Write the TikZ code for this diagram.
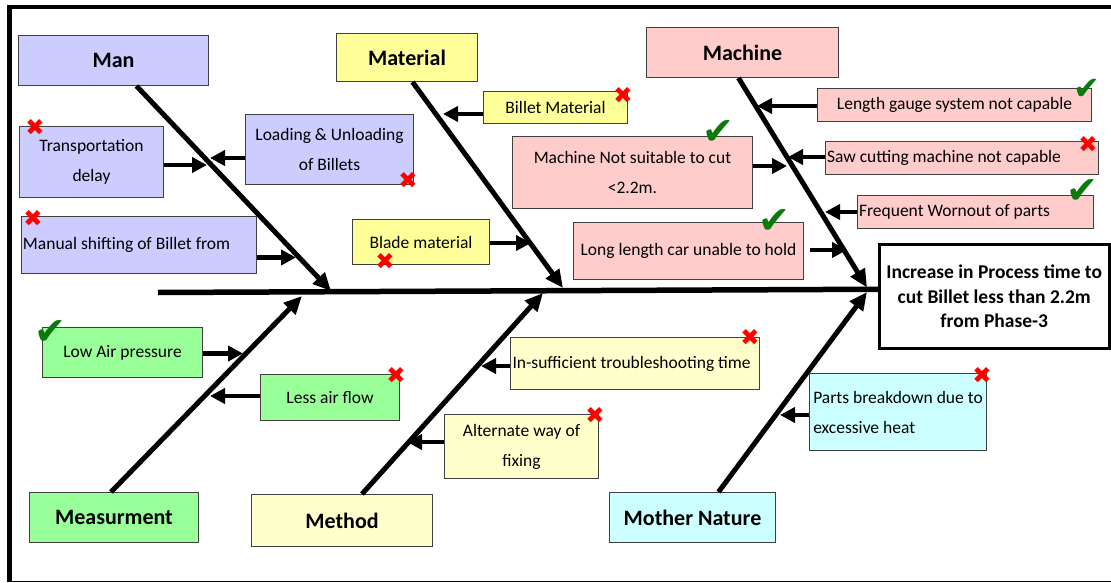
\documentclass[tikz,border=0pt]{standalone}
\usepackage{fontspec}
\setmainfont{Carlito}
\newfontfamily\symfont{DejaVu Sans}
\usetikzlibrary{arrows.meta,calc}
\definecolor{manc}{HTML}{CCCCFF}
\definecolor{matc}{HTML}{FFFF99}
\definecolor{macc}{HTML}{FFCCCC}
\definecolor{meac}{HTML}{99FF99}
\definecolor{metc}{HTML}{FFFFCC}
\definecolor{natc}{HTML}{CCFFFF}
\definecolor{bordc}{HTML}{404040}
\definecolor{chk}{HTML}{0A7A0A}
\tikzset{
  box/.style={draw=bordc, line width=1pt, inner sep=1pt, anchor=north west,
    font=\fontsize{17.5}{30}\selectfont, align=center},
  lbox/.style={box, align=flush left},
  cat/.style={box, font=\fontsize{22}{26}\selectfont\bfseries},
  bone/.style={line width=5pt, -{Triangle[length=18pt,width=16pt]}},
  arr/.style={line width=4.5pt, -{Triangle[length=15pt,width=15pt]}},
  chkm/.style={text=chk, font=\symfont\fontsize{38}{38}\selectfont, inner sep=0pt},
  xm/.style={text=red, font=\symfont\fontsize{23}{23}\selectfont, inner sep=0pt},
}
\begin{document}
\begin{tikzpicture}[x=1pt,y=-1pt]
\useasboundingbox (0,0) rectangle (1111,583);
% frame
\coordinate (f1) at (7,7);
\coordinate (f2) at (1111,7);
\coordinate (f3) at (9.5,5);
\coordinate (f4) at (9.5,582);
\coordinate (f5) at (9.5,581.5);
\coordinate (f6) at (1111,581.5);
\draw[line width=4.5pt] (f1) -- (f2);
\draw[line width=4.5pt] (f3) -- (f4);
\draw[line width=1.5pt] (f5) -- (f6);

% categories
\node[cat, fill=manc, minimum width=190pt, minimum height=50pt] (man) at (18,35) {Man};
\node[cat, fill=matc, minimum width=141pt, minimum height=48pt] (mat) at (336,33) {Material};
\node[cat, fill=macc, minimum width=192pt, minimum height=50pt] (mac) at (646,27) {Machine};
\node[cat, fill=meac, minimum width=169pt, minimum height=50pt] (mea) at (29,492) {Measurment};
\node[cat, fill=metc, minimum width=181pt, minimum height=52pt] (met) at (251,494) {Method};
\node[cat, fill=natc, minimum width=166pt, minimum height=50pt] (nat) at (609,492) {Mother Nature};

% effect
\node[draw=black, line width=2.5pt, anchor=north west, minimum width=230pt, minimum height=104pt,
  align=center, inner sep=1pt, font=\fontsize{19.5}{24.5}\selectfont\bfseries] (eff) at (878,243)
  {Increase in Process time to\\cut Billet less than 2.2m\\from Phase-3};

% spine
\coordinate (sp) at (158,292.5);
\draw[line width=5.5pt] (sp) -- ([yshift=7pt]eff.west);

% bone tips
\coordinate (tman) at (331,291);
\coordinate (tmat) at (563,288);
\coordinate (tmac) at (867,287.5);
\coordinate (tmea) at (302,296);
\coordinate (tmet) at (543,293);
\coordinate (tnat) at (867,292);
\draw[bone] ([xshift=23pt]man.south) -- (tman);
\draw[bone] ([xshift=5.5pt]mat.south) -- (tmat);
\draw[bone] ([xshift=-4pt]mac.south) -- (tmac);
\draw[bone] ([xshift=-3pt]mea.north) -- (tmea);
\draw[bone] ([xshift=20pt]met.north) -- (tmet);
\draw[bone] ([xshift=26pt]nat.north) -- (tnat);

% causes - Man
\node[box, fill=manc, minimum width=144pt, minimum height=71pt] (trans) at (19,126) {Transportation\\delay};
\node[box, fill=manc, minimum width=168pt, minimum height=70pt] (load) at (245,114) {Loading \& Unloading\\of Billets};
\node[lbox, fill=manc, minimum width=235pt, minimum height=57pt, text width=232pt] (manual) at (21,216) {Manual shifting of Billet from};
% Material
\node[box, fill=matc, minimum width=144pt, minimum height=32pt] (billet) at (483,91) {Billet Material};
\node[box, fill=matc, minimum width=137pt, minimum height=45pt] (blade) at (352,219) {Blade material};
% Machine
\node[box, fill=macc, minimum width=240pt, minimum height=72pt] (notsuit) at (512,136) {Machine Not suitable to cut\\<2.2m.};
\node[box, fill=macc, minimum width=230pt, minimum height=57pt] (long) at (573,222) {Long length car unable to hold};
\node[box, fill=macc, minimum width=274pt, minimum height=33pt] (gauge) at (817,88) {Length gauge system not capable};
\node[lbox, fill=macc, minimum width=273pt, minimum height=33pt, text width=270pt] (saw) at (825,141) {Saw cutting machine not capable};
\node[lbox, fill=macc, minimum width=236pt, minimum height=33pt, text width=233pt] (worn) at (857,195) {Frequent Wornout of parts};
% Measurement
\node[box, fill=meac, minimum width=160pt, minimum height=50pt] (low) at (42,327) {Low Air pressure};
\node[box, fill=meac, minimum width=139pt, minimum height=46pt] (less) at (260,374) {Less air flow};
% Method
\node[lbox, fill=metc, minimum width=249pt, minimum height=52pt, text width=245pt, inner xsep=2pt] (insuf) at (510,337) {In-sufficient troubleshooting time};
\node[box, fill=metc, minimum width=154pt, minimum height=64pt] (alt) at (444,414) {Alternate way of\\fixing};
% Mother Nature
\node[box, align=left, fill=natc, minimum width=177pt, minimum height=77pt] (parts) at (809,373) {Parts breakdown due to\\excessive heat};

% cause arrow tips
\coordinate (atrans) at (207,165);
\coordinate (aload) at (210,158);
\coordinate (amanual) at (296,257.5);
\coordinate (abillet) at (443,114);
\coordinate (ablade) at (531,243);
\coordinate (anotsuit) at (787,166);
\coordinate (along) at (847,250);
\coordinate (along0) at (810,250);
\coordinate (agauge) at (757,106);
\coordinate (asaw) at (788,157);
\coordinate (aworn) at (825,212);
\coordinate (alow) at (243,353.5);
\coordinate (aless) at (210,396);
\coordinate (ainsuf) at (481,366);
\coordinate (aalt) at (407,442);
\coordinate (aparts) at (780,415);

\draw[arr] (atrans -| trans.east) -- (atrans);
\draw[arr] (aload -| load.west) -- (aload);
\draw[arr] (amanual -| manual.east) -- (amanual);
\draw[arr] (abillet -| billet.west) -- (abillet);
\draw[arr] (ablade -| blade.east) -- (ablade);
\draw[arr] (anotsuit -| notsuit.east) -- (anotsuit);
\draw[arr] (along0) -- (along);
\draw[arr] (agauge -| gauge.west) -- (agauge);
\draw[arr] (asaw -| saw.west) -- (asaw);
\draw[arr] (aworn -| worn.west) -- (aworn);
\draw[arr] (alow -| low.east) -- (alow);
\draw[arr] (aless -| less.west) -- (aless);
\draw[arr] (ainsuf -| insuf.west) -- (ainsuf);
\draw[arr] (aalt -| alt.west) -- (aalt);
\draw[arr] (aparts -| parts.west) -- (aparts);

% marks
\node[chkm] (c1) at (718,133) {✔};
\node[chkm] (c2) at (774,222) {✔};
\node[chkm, font=\symfont\fontsize{32}{32}\selectfont] (c3) at (1087,89) {✔};
\node[chkm] (c4) at (1082,192) {✔};
\node[chkm] (c5) at (50,333) {✔};
\node[xm] (x1) at (35,127) {✖};
\node[xm] (x2) at (408,180) {✖};
\node[xm] (x3) at (33,218) {✖};
\node[xm] (x4) at (623,95) {✖};
\node[xm] (x5) at (385,261) {✖};
\node[xm] (x6) at (1088,144) {✖};
\node[xm] (x7) at (396,375) {✖};
\node[xm] (x8) at (750,337) {✖};
\node[xm] (x9) at (595,415) {✖};
\node[xm] (x10) at (982,375) {✖};
\end{tikzpicture}
\end{document}
